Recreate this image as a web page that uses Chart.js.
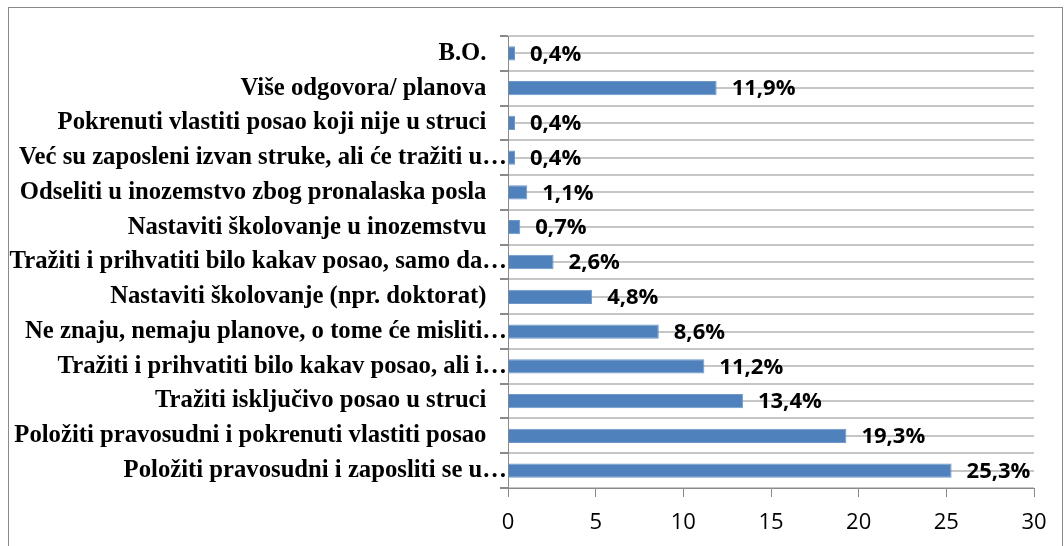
<!DOCTYPE html>
<html>
<head>
<meta charset="utf-8">
<script src="https://cdn.jsdelivr.net/npm/chart.js@4/dist/chart.umd.min.js"></script>
<style>
  body { margin: 0; background: #fff; }
  .frame { position: absolute; left: 8px; top: 7px; width: 1053px; height: 600px; border: 1px solid #8a8a8a; }
  .wrap { position: absolute; left: 0; top: 0; width: 1064px; height: 546px; }
</style>
</head>
<body>
<div class="frame"></div>
<div class="wrap"><canvas id="planChart"></canvas></div>
<script>
// kategorije od vrha prema dnu
const categories = [
    'B.O.',
    'Više odgovora/ planova',
    'Pokrenuti vlastiti posao koji nije u struci',
    'Već su zaposleni izvan struke, ali će tražiti u…',
    'Odseliti u inozemstvo zbog pronalaska posla',
    'Nastaviti školovanje u inozemstvu',
    'Tražiti i prihvatiti bilo kakav posao, samo da…',
    'Nastaviti školovanje (npr. doktorat)',
    'Ne znaju, nemaju planove, o tome će misliti…',
    'Tražiti i prihvatiti bilo kakav posao, ali i…',
    'Tražiti isključivo posao u struci',
    'Položiti pravosudni i pokrenuti vlastiti posao',
    'Položiti pravosudni i zaposliti se u…'
]
const percentages = [0.4, 11.9, 0.4, 0.4, 1.1, 0.7, 2.6, 4.8, 8.6, 11.2, 13.4, 19.3, 25.3]
const xTicks = [0, 5, 10, 15, 20, 25, 30]

const fmt = v => v.toFixed(1).replace('.', ',') + '%'

const valueLabels = {
    id: 'valueLabels',
    afterDatasetsDraw(chart) {
        const ctx = chart.ctx
        const meta = chart.getDatasetMeta(0)
        ctx.save()
        ctx.font = 'bold 22px "Open Sans"'
        ctx.fillStyle = '#000'
        ctx.textAlign = 'left'
        ctx.textBaseline = 'middle'
        meta.data.forEach((bar, i) => {
            ctx.fillText(fmt(percentages[i]), bar.x + 15, bar.y + 1)
        })
        ctx.restore()
    }
}

const ctx = document.getElementById('planChart').getContext('2d')
const planChart = new Chart(ctx, {
    type: 'bar',
    data: {
        labels: categories,
        datasets: [{
            data: percentages,
            backgroundColor: '#4f81bd',
            borderColor: '#6f97c9',
            borderWidth: 1,
            borderSkipped: 'start',
            barPercentage: 0.41,
            categoryPercentage: 1
        }]
    },
    options: {
        indexAxis: 'y',
        responsive: true,
        maintainAspectRatio: false,
        animation: false,
        layout: { padding: { top: 36, right: 30, left: 0, bottom: 0 } },
        plugins: { legend: { display: false }, tooltip: { enabled: false } },
        scales: {
            x: {
                min: 0,
                max: 30,
                afterBuildTicks: s => { s.ticks = xTicks.map(v => ({ value: v })) },
                ticks: { font: { family: 'Open Sans', size: 22 }, color: '#000', padding: 13 },
                grid: { drawOnChartArea: false, drawTicks: true, tickLength: 9, color: '#8a8a8a' },
                border: { color: '#8a8a8a' },
                afterFit: s => { s.height = 58 }
            },
            y: {
                grid: { offset: true, color: '#c6c6c6', lineWidth: 2, tickLength: 8, tickColor: '#8a8a8a' },
                border: { color: '#8a8a8a', width: 1 },
                ticks: {
                    font: { family: '"Liberation Serif", "Times New Roman", serif', size: 24.7, weight: 'bold' },
                    color: '#000',
                    padding: -7,
                    callback: function (v) {
                        const l = this.getLabelForValue(v)
                        return l.endsWith('…') ? l : l + '\u2002\u2006\u2006'
                    }
                },
                afterFit: s => { s.width = 508 }
            },
            yMid: {
                type: 'category',
                position: 'left',
                offset: true,
                grid: { offset: false, color: '#c6c6c6', lineWidth: 2, drawTicks: false },
                border: { display: false },
                ticks: { display: false },
                afterFit: s => { s.width = 0 }
            }
        }
    },
    plugins: [valueLabels]
})
</script>
</body>
</html>
